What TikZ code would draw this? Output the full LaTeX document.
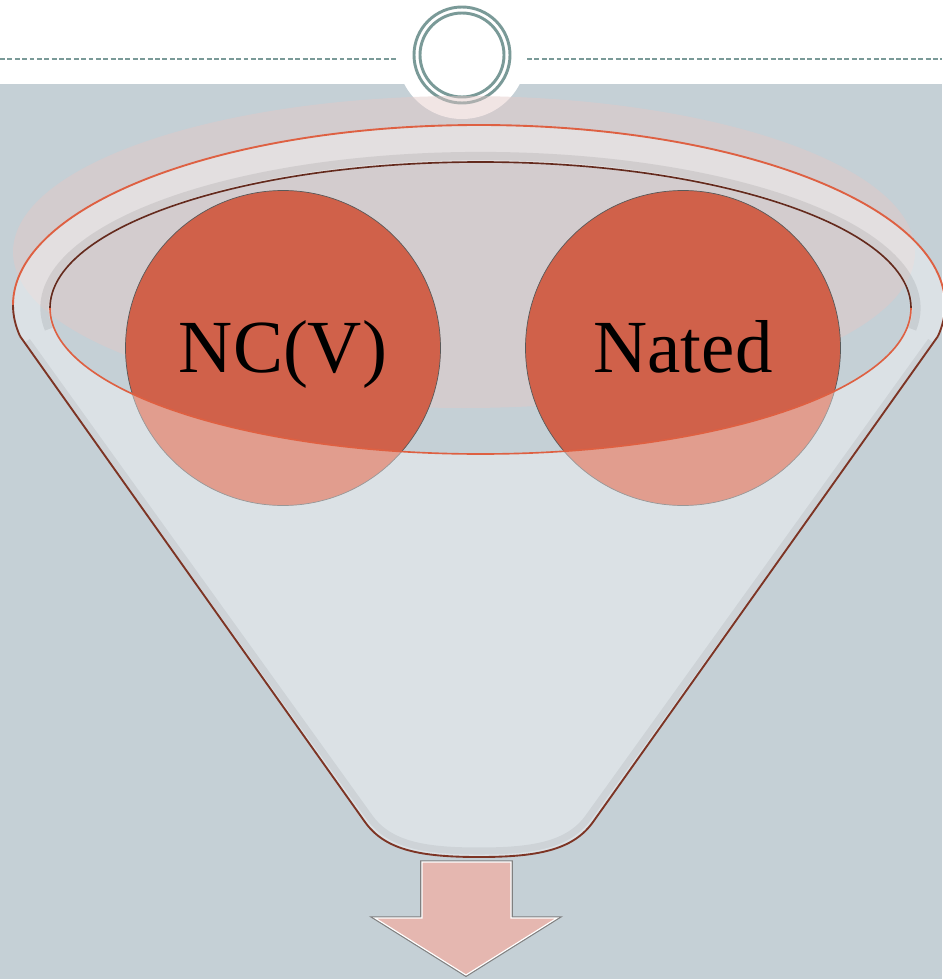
\documentclass[tikz,border=0pt]{standalone}
\usepackage{fontspec}
\setmainfont{Liberation Serif}
\definecolor{hgrund}{RGB}{197,208,214}
\definecolor{ringgrau}{RGB}{122,154,152}
\definecolor{rosa}{RGB}{227,200,199}
\definecolor{kreisrot}{RGB}{208,97,74}
\definecolor{randrot}{RGB}{222,96,66}
\definecolor{randbraun}{RGB}{125,52,36}
\definecolor{pfeilrosa}{RGB}{229,183,176}

\begin{document}
\begin{tikzpicture}[x=0.03cm, y=-0.03cm,
  kugel/.style={circle, fill=kreisrot, draw=black!65, line width=0.6pt,
    minimum size=9.45cm, inner sep=0pt, text height=41pt, text depth=0pt,
    font=\fontsize{64}{70}\selectfont}]
	 % Hintergrund und weisser Streifen oben:
	 \useasboundingbox (0,0) rectangle (942,979);
	 \fill[hgrund] (0,0) rectangle (942,979);
	 \fill[white] (0,0) rectangle (942,84);
	 \fill[white] (462,54) circle (65);
	 % gestrichelte Linie links und rechts vom Ring:
	 \draw[ringgrau, line width=1pt, dash pattern=on 4.2pt off 2.1pt] (0,59) -- (396,59);
	 \draw[ringgrau, line width=1pt, dash pattern=on 4.2pt off 2.1pt] (527,59) -- (942,59);
	 % Doppelring:
	 \foreach \r in {42,48}
	 \draw[ringgrau, line width=2.5pt] (462,55) circle (\r);
	 % rosa Ellipse hinter dem Trichter:
	 \fill[rosa, opacity=0.47] (464,252) ellipse [x radius=451, y radius=156];
	 % die beiden Kreise mit Text:
	 \foreach \name/\x/\txt in {ncv/283/NC(V),nated/683/Nated}
	 \node[kugel] (\name) at (\x,348) {\txt};
	 % Trichter (durchscheinend, mit Loch):
	 \path[fill=white, fill opacity=0.38, even odd rule]
	   ({479+466*cos(170)},{305+180*sin(170)})
	   arc[start angle=170, end angle=370, x radius=466, y radius=180]
	   -- (593,822) .. controls (573,850) and (538,857) .. (479,857)
	   .. controls (420,857) and (385,850) .. (365,822) -- cycle
	   (480.5,308) ellipse [x radius=430.5, y radius=146];
	 % Schatten innen am Rand:
	 \draw[black, opacity=0.08, line width=7pt]
	   ({480.5+436*cos(172)},{308+152*sin(172)})
	   arc[start angle=172, end angle=368, x radius=436, y radius=152];
	 \draw[black, opacity=0.06, line width=6pt]
	   (27,341) -- (370,818) .. controls (390,845) and (425,851) .. (479,851)
	   .. controls (533,851) and (568,845) .. (588,818) -- (931,341);
	 % Seiten und Boden des Trichters:
	 \draw[randbraun, line width=1.6pt]
	   ({479+466*cos(170)},{305+180*sin(170)}) -- (365,822)
	   .. controls (385,850) and (420,857) .. (479,857)
	   .. controls (538,857) and (573,850) .. (593,822)
	   -- ({479+466*cos(10)},{305+180*sin(10)});
	 % oberer Rand aussen:
	 \draw[randrot, line width=1.6pt]
	   ({479+466*cos(180)},{305+180*sin(180)})
	   arc[start angle=180, end angle=360, x radius=466, y radius=180];
	 \draw[randbraun, line width=1.6pt]
	   ({479+466*cos(170)},{305+180*sin(170)})
	   arc[start angle=170, end angle=180, x radius=466, y radius=180];
	 \draw[randbraun, line width=1.6pt]
	   ({479+466*cos(0)},{305+180*sin(0)})
	   arc[start angle=0, end angle=10, x radius=466, y radius=180];
	 % innere Ellipse, hinten dunkel, vorne rot:
	 \draw[randbraun!80!black, line width=1.4pt]
	   ({480.5+430.5*cos(180)},{308+146*sin(180)})
	   arc[start angle=180, end angle=360, x radius=430.5, y radius=146];
	 \draw[randrot, line width=1.4pt]
	   ({480.5+430.5*cos(0)},{308+146*sin(0)})
	   arc[start angle=0, end angle=180, x radius=430.5, y radius=146];
	 % Pfeil nach unten:
	 \draw[black!50, line width=3pt, line join=miter]
	   (422,862) -- (511,862) -- (511,918) -- (557,918) -- (466,975)
	   -- (375,918) -- (422,918) -- cycle;
	 \draw[white, line width=1pt, fill=pfeilrosa]
	   (422,862) -- (511,862) -- (511,918) -- (557,918) -- (466,975)
	   -- (375,918) -- (422,918) -- cycle;
\end{tikzpicture}
\end{document}
